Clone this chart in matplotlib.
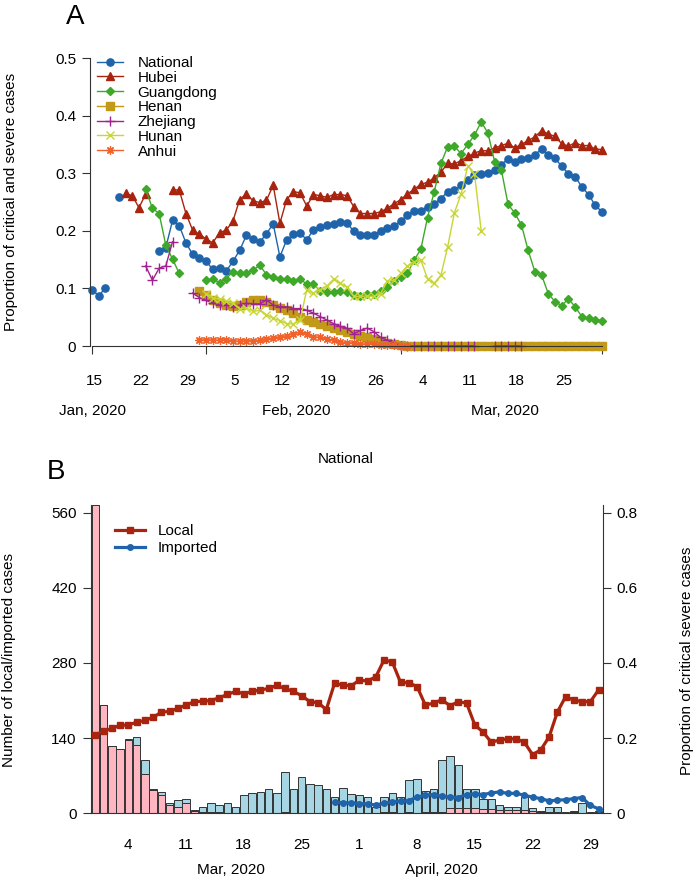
import numpy as np
import matplotlib
matplotlib.use("Agg")
import matplotlib.pyplot as plt

plt.rcParams['font.family'] = ['Liberation Sans', 'DejaVu Sans']

nan = np.nan

# ---- panel A: proportion of critical/severe cases, day 0 = 15 Jan 2020 ----
national_start = 0
national = [0.098, 0.087, 0.101, nan, 0.259, nan, nan, nan, nan, nan,
            0.165, 0.171, 0.218, 0.209, 0.179, 0.159, 0.152, 0.147, 0.133, 0.135,
            0.130, 0.147, 0.166, 0.192, 0.185, 0.180, 0.195, 0.212, 0.155, 0.184,
            0.194, 0.197, 0.184, 0.202, 0.207, 0.210, 0.211, 0.216, 0.214, 0.199,
            0.192, 0.192, 0.193, 0.200, 0.204, 0.208, 0.217, 0.227, 0.235, 0.235,
            0.242, 0.247, 0.256, 0.268, 0.270, 0.279, 0.288, 0.297, 0.299, 0.301,
            0.306, 0.315, 0.325, 0.319, 0.325, 0.327, 0.332, 0.342, 0.332, 0.326,
            0.312, 0.299, 0.294, 0.276, 0.263, 0.244, 0.233]

hubei_start = 5
hubei = [0.265, 0.261, 0.240, 0.264, nan, nan, nan, 0.271, 0.271, 0.230,
         0.201, 0.194, 0.186, 0.179, 0.197, 0.201, 0.217, 0.254, 0.264, 0.252,
         0.249, 0.253, 0.279, 0.213, 0.254, 0.268, 0.266, 0.243, 0.263, 0.261,
         0.258, 0.263, 0.263, 0.261, 0.242, 0.230, 0.230, 0.230, 0.233, 0.239,
         0.247, 0.254, 0.264, 0.272, 0.281, 0.284, 0.292, 0.302, 0.317, 0.316,
         0.322, 0.329, 0.335, 0.339, 0.339, 0.344, 0.348, 0.352, 0.344, 0.350,
         0.357, 0.363, 0.374, 0.368, 0.364, 0.351, 0.347, 0.353, 0.348, 0.348,
         0.342, 0.341]

guangdong_start = 8
guangdong = [0.272, 0.239, 0.230, 0.175, 0.151, 0.126, nan, nan, nan, 0.114,
             0.116, 0.110, 0.117, 0.129, 0.126, 0.126, 0.132, 0.140, 0.124, 0.120,
             0.117, 0.117, 0.113, 0.117, 0.107, 0.107, 0.096, 0.094, 0.094, 0.096,
             0.093, 0.088, 0.087, 0.091, 0.091, 0.096, 0.103, 0.112, 0.119, 0.126,
             0.149, 0.168, 0.223, 0.268, 0.317, 0.346, 0.347, 0.334, 0.350, 0.366,
             0.389, 0.370, 0.320, 0.306, 0.246, 0.231, 0.210, 0.166, 0.129, 0.123,
             0.091, 0.077, 0.070, 0.082, 0.068, 0.051, 0.048, 0.046, 0.044]

henan_start = 16
henan = [0.096, 0.089, 0.080, 0.075, 0.072, 0.070, 0.072, 0.076, 0.079, 0.079,
         0.076, 0.072, 0.066, 0.062, 0.057, 0.051, 0.045, 0.041, 0.038, 0.034,
         0.031, 0.028, 0.025, 0.021, 0.018, 0.015, 0.012, 0.009, 0.006, 0.004,
         0.002] + [0.0] * 30

zhejiang_start = 8
zhejiang = [0.139, 0.114, 0.135, 0.139, 0.181, nan, nan, 0.092, 0.084, 0.079,
            0.075, 0.071, 0.071, 0.068, 0.071, 0.074, 0.073, 0.073, 0.080, 0.071,
            0.068, 0.068, 0.065, 0.065, 0.062, 0.057, 0.051, 0.045, 0.039, 0.034,
            0.031, 0.021, 0.027, 0.031, 0.025, 0.015, 0.010, 0.005] + [0.0] * 12 \
           + [nan, nan] + [0.0] * 5

hunan_start = 17
hunan = [0.091, 0.084, 0.081, 0.078, 0.074, 0.065, 0.066, 0.060, 0.062, 0.054,
         0.048, 0.044, 0.039, 0.038, 0.045, 0.097, 0.092, 0.098, 0.104, 0.116,
         0.109, 0.102, 0.086, 0.086, 0.087, 0.086, 0.091, 0.112, 0.114, 0.126,
         0.139, 0.146, 0.149, 0.117, 0.109, 0.123, 0.172, 0.231, 0.264, 0.312,
         0.299, 0.200]

anhui_start = 16
anhui = [0.010, 0.011, 0.010, 0.010, 0.011, 0.009, 0.008, 0.009, 0.009, 0.010,
         0.012, 0.014, 0.016, 0.018, 0.021, 0.024, 0.020, 0.016, 0.015, 0.012,
         0.010, 0.007, 0.006, 0.005, 0.003, 0.004, 0.003, 0.002, 0.001, 0.001,
         0.0, 0.0]

a_ticks = [0, 17, 46, 76]
a_day_pos = [0, 7, 14, 21, 28, 35, 42, 49, 56, 63, 70]
a_day_labels = ['15', '22', '29', '5', '12', '19', '26', '4', '11', '18', '25']
a_month_pos = [0, 30.5, 61.5]
a_month_labels = ['Jan, 2020', 'Feb, 2020', 'Mar, 2020']

# ---- panel B: national, day 0 = 29 Feb 2020 ----
local_cases = [574, 202, 125, 119, 137, 127, 74, 43, 35, 15,
               12, 20, 4, 3, 3, 3, 1, 1, 1, 1,
               1, 1, 1, 3, 1, 1, 1, 1, 1, 1,
               1, 1, 1, 1, 1, 2, 2, 1, 2, 1,
               3, 3, 3, 9, 9, 9, 9, 8, 8, 6,
               6, 6, 6, 4, 3, 2, 2, 1, 2, 1,
               0, 2]
total_cases = [574, 202, 125, 119, 139, 142, 99, 45, 40, 19,
               24, 27, 7, 11, 20, 15, 20, 12, 34, 38,
               40, 46, 38, 77, 46, 67, 54, 53, 45, 31,
               48, 36, 35, 31, 12, 30, 38, 31, 62, 63,
               42, 46, 99, 107, 89, 46, 46, 26, 27, 15,
               11, 11, 30, 9, 5, 11, 11, 3, 5, 20,
               3, 5]
imported_cases = [t - l for t, l in zip(total_cases, local_cases)]

local_prop = [0.209, 0.218, 0.226, 0.234, 0.235, 0.242, 0.247, 0.255, 0.269, 0.271,
              0.279, 0.288, 0.297, 0.298, 0.300, 0.307, 0.316, 0.324, 0.318, 0.324,
              0.328, 0.332, 0.340, 0.332, 0.324, 0.313, 0.297, 0.294, 0.276, 0.346,
              0.341, 0.339, 0.354, 0.352, 0.363, 0.408, 0.402, 0.348, 0.347, 0.337,
              0.288, 0.293, 0.302, 0.286, 0.297, 0.293, 0.235, 0.216, 0.189, 0.195,
              0.198, 0.198, 0.189, 0.156, 0.169, 0.203, 0.269, 0.310, 0.301, 0.297,
              0.297, 0.328]
imported_start = 29
imported_prop = [0.030, 0.028, 0.028, 0.026, 0.025, 0.022, 0.027, 0.031, 0.032, 0.034,
                 0.043, 0.048, 0.050, 0.045, 0.043, 0.042, 0.050, 0.052, 0.050, 0.054,
                 0.057, 0.053, 0.053, 0.048, 0.043, 0.039, 0.033, 0.035, 0.036, 0.039,
                 0.042, 0.021, 0.012]

b_day_pos = [4, 11, 18, 25, 32, 39, 46, 53, 60]
b_day_labels = ['4', '11', '18', '25', '1', '8', '15', '22', '29']
b_month_pos = [16.4, 41.9]
b_month_labels = ['Mar, 2020', 'April, 2020']

W, H = 697, 882
AX = '#333333'
FS = 11
fig = plt.figure(figsize=(W / 100, H / 100), dpi=100)


def px_axes(left, top, right, bottom):
    return fig.add_axes([left / W, 1 - bottom / H, (right - left) / W, (bottom - top) / H])


def days(start, vals):
    return np.arange(start, start + len(vals))


# ---------------- panel A ----------------
axA = px_axes(90, 58, 604, 346)
axA.set_xlim(-0.3, 76.3)
axA.set_ylim(0, 0.5)

series = [
    ('National', national_start, national, '#1f64aa', 'o', 5.2, {}),
    ('Hubei', hubei_start, hubei, '#a8240f', '^', 5.8, {}),
    ('Guangdong', guangdong_start, guangdong, '#3ea829', 'D', 3.6, {}),
    ('Henan', henan_start, henan, '#c39a18', 's', 6.0, {}),
    ('Zhejiang', zhejiang_start, zhejiang, '#a0238f', '+', 7.5, {'markeredgewidth': 1.0}),
    ('Hunan', hunan_start, hunan, '#c7d634', 'x', 6.0, {'markeredgewidth': 1.0}),
    ('Anhui', anhui_start, anhui, '#f0622a', (8, 2, 0), 6.0, {'markeredgewidth': 0.9}),
]
handles = []
for name, start, vals, col, mk, ms, kw in series:
    ln, = axA.plot(days(start, vals), vals, color=col, lw=1.0, marker=mk, ms=ms,
                   markeredgecolor=col, markerfacecolor=col, clip_on=False, label=name, **kw)
    handles.append(ln)

for s in ['top', 'right']:
    axA.spines[s].set_visible(False)
axA.spines['left'].set_bounds(0, 0.5)
axA.spines['bottom'].set_bounds(0, 76)
for s in ['left', 'bottom']:
    axA.spines[s].set_color(AX)
    axA.spines[s].set_linewidth(0.8)
axA.set_xticks(a_ticks)
axA.set_xticklabels([])
axA.set_yticks([0, 0.1, 0.2, 0.3, 0.4, 0.5])
axA.set_yticklabels(['0', '0.1', '0.2', '0.3', '0.4', '0.5'])
axA.tick_params(length=6, width=0.8, color=AX, labelsize=FS, pad=4)

for d, lab in zip(a_day_pos, a_day_labels):
    axA.annotate(lab, xy=(d, 0), xycoords=('data', 'axes fraction'), xytext=(2, -35),
                 textcoords='offset pixels', ha='center', va='center', fontsize=FS)
for d, lab in zip(a_month_pos, a_month_labels):
    axA.annotate(lab, xy=(d, 0), xycoords=('data', 'axes fraction'), xytext=(0, -65),
                 textcoords='offset pixels', ha='center', va='center', fontsize=FS)

axA.set_ylabel('Proportion of critical and severe cases', fontsize=FS)
axA.yaxis.set_label_coords((18 - 90) / 514, 0.5)

axA.legend(handles=handles, loc='upper left', bbox_to_anchor=(97 / W, 1 - 56 / H),
           bbox_transform=fig.transFigure, frameon=False, fontsize=FS,
           borderpad=0, borderaxespad=0, handlelength=1.7, handletextpad=0.95,
           labelspacing=0.05)

fig.text(75 / W, 1 - 17 / H, 'A', fontsize=20, ha='center', va='center')

# ---------------- panel B ----------------
axB = px_axes(90.7, 505, 602.7, 813.3)
axB.set_xlim(-0.56, 61.5)
axB.set_ylim(0, 574)
xb = np.arange(len(total_cases))
axB.bar(xb, local_cases, width=0.9, color='#ffb6c1', edgecolor=AX, linewidth=0.7)
axB.bar(xb, imported_cases, bottom=local_cases, width=0.9, color='#a6d5e4',
        edgecolor=AX, linewidth=0.7)

axR = axB.twinx()
axR.set_ylim(0, 0.82)
l_local, = axR.plot(xb, local_prop, color='#a8240f', lw=2.3, marker='s', ms=4.2,
                    label='Local')
l_imp, = axR.plot(days(imported_start, imported_prop), imported_prop, color='#1f64aa',
                  lw=2.3, marker='o', ms=4.0, label='Imported')

for ax in (axB, axR):
    ax.spines['top'].set_visible(False)
    for s in ['left', 'right', 'bottom']:
        ax.spines[s].set_color(AX)
        ax.spines[s].set_linewidth(0.8)
axB.spines['right'].set_visible(False)
axR.spines['left'].set_visible(False)
axR.spines['bottom'].set_visible(False)

axB.set_xticks([])
axB.set_yticks([0, 140, 280, 420, 560])
axB.tick_params(length=6, width=0.8, color=AX, labelsize=FS, pad=4)
axR.set_yticks([0, 0.2, 0.4, 0.6, 0.8])
axR.set_yticklabels(['0', '0.2', '0.4', '0.6', '0.8'])
axR.tick_params(length=6, width=0.8, color=AX, labelsize=FS, pad=4)

for d, lab in zip(b_day_pos, b_day_labels):
    axB.annotate(lab, xy=(d, 0), xycoords=('data', 'axes fraction'), xytext=(0, -32),
                 textcoords='offset pixels', ha='center', va='center', fontsize=FS)
for d, lab in zip(b_month_pos, b_month_labels):
    axB.annotate(lab, xy=(d, 0), xycoords=('data', 'axes fraction'), xytext=(0, -57),
                 textcoords='offset pixels', ha='center', va='center', fontsize=FS)

axB.set_ylabel('Number of local/imported cases', fontsize=FS)
axB.yaxis.set_label_coords((16 - 90.7) / 512, (813.3 - 660) / 308.3)
axR.set_ylabel('Proportion of critical severe cases', fontsize=FS)
axR.yaxis.set_label_coords((680 - 90.7) / 512, (813.3 - 661) / 308.3)

axR.legend(handles=[l_local, l_imp], loc='upper left', bbox_to_anchor=(115 / W, 1 - 524 / H),
           bbox_transform=fig.transFigure, frameon=False, fontsize=FS,
           borderpad=0, borderaxespad=0, handlelength=1.95, handletextpad=0.85,
           labelspacing=0.22)

fig.text(346 / W, 1 - 459 / H, 'National', fontsize=FS, ha='center', va='center')
fig.text(56 / W, 1 - 472 / H, 'B', fontsize=20, ha='center', va='center')

fig.savefig('out.png', dpi=100)
